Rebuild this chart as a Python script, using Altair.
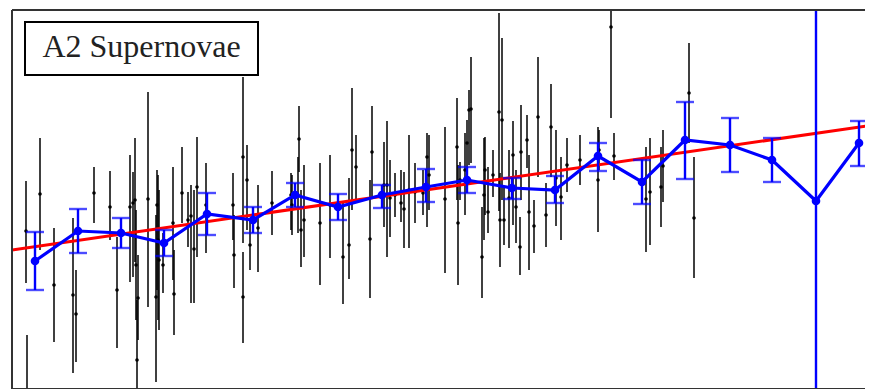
import altair as alt
import pandas as pd

# ---- individual supernovae (x, y, error-bar top, error-bar bottom), picture units ----
sn_x = [26, 27, 40, 54, 73, 76, 94, 110, 117, 130, 133, 135, 136, 137, 138, 148, 156, 157, 158, 159,
        163, 173, 174, 182, 188, 191, 194, 197, 206, 233, 234, 243, 243, 247, 250, 258, 272, 291, 292, 299,
        298, 301, 304, 320, 330, 343, 349, 352, 356, 370, 372, 384, 387, 390, 395, 401, 404, 409, 415, 423,
        427, 429, 445, 457, 458, 460, 465, 467, 469, 471, 482, 484, 485, 488, 493, 499, 500, 502, 504, 509,
        513, 516, 520, 521, 527, 529, 534, 538, 546, 551, 556, 561, 567, 580, 598, 599, 611, 614, 646, 650,
        661, 663, 689, 694, 867]
sn_y = [231, 395, 194, 285, 295, 314, 193, 207, 290, 207, 203, 200, 265, 360, 298, 199, 297, 205, 240, 260,
        265, 223, 294, 193, 220, 216, 249, 187, 205, 205, 255, 157, 297, 180, 245, 228, 203, 195, 205, 139,
        195, 230, 220, 223, 205, 257, 245, 150, 167, 239, 152, 185, 185, 198, 195, 203, 209, 190, 192, 193,
        157, 175, 199, 147, 223, 180, 170, 143, 110, 109, 257, 195, 170, 212, 175, 112, 220, 120, 220, 198,
        155, 207, 247, 152, 140, 212, 226, 117, 215, 127, 178, 197, 165, 160, 180, 150, 27, 156, 199, 192,
        187, 166, 93, 218, 143]
sn_top = [181, 335, 138, 228, 218, 270, 167, 171, 237, 155, 172, 138, 210, 300, 255, 92, 215, 170, 175, 190,
          233, 167, 250, 147, 192, 185, 190, 137, 163, 173, 215, 77, 252, 145, 220, 185, 171, 173, 175, 106,
          157, 190, 165, 163, 155, 203, 178, 88, 135, 180, 106, 142, 121, 160, 173, 170, 172, 135, 163, 170,
          133, 135, 127, 98, 165, 162, 133, 120, 90, 57, 207, 138, 137, 167, 150, 13, 173, 38, 188, 150,
          121, 170, 217, 105, 115, 155, 200, 57, 183, 84, 130, 157, 138, 135, 127, 130, -64, 133, 147, 138,
          147, 130, 43, 157, 120]
sn_bot = [283, 455, 250, 342, 373, 362, 223, 240, 348, 282, 277, 262, 320, 420, 340, 307, 382, 290, 320, 330,
          293, 280, 335, 223, 247, 303, 303, 257, 253, 240, 288, 243, 343, 230, 270, 272, 235, 230, 235, 172,
          233, 267, 257, 285, 258, 304, 279, 210, 200, 298, 198, 227, 257, 237, 217, 222, 248, 248, 223, 215,
          227, 210, 273, 200, 285, 200, 215, 185, 165, 163, 298, 240, 215, 233, 197, 211, 267, 200, 245, 248,
          225, 243, 275, 200, 168, 270, 253, 177, 247, 177, 226, 240, 192, 185, 232, 170, 118, 180, 252, 245,
          227, 202, 143, 278, 167]

# ---- binned averages ----
bin_x = [35, 78, 121, 164, 207, 253, 295, 338, 382, 426, 467, 512, 555, 598, 642, 685, 730, 772, 816, 859]
bin_y = [261, 231, 233, 243, 214, 220, 195, 207, 195, 187, 180, 188, 190, 156, 182, 140, 145, 160, 201, 143]
bin_top = [232, 209, 218, 230, 193, 207, 183, 194, 185, 169, 167, 178, 176, 143, 160, 102, 118, 138, -2000, 121]
bin_bot = [290, 253, 248, 256, 235, 233, 207, 220, 208, 202, 193, 199, 203, 171, 204, 179, 172, 182, 2000, 166]

# ---- linear fit ----
fit_x = [12, 873]
fit_y = [250, 125]

label = "A2 Supernovae"

sn = pd.DataFrame({"x": sn_x, "y": sn_y, "top": sn_top, "bot": sn_bot})
bins = pd.DataFrame({"x": bin_x, "y": bin_y, "top": bin_top, "bot": bin_bot})
fit = pd.DataFrame({"x": fit_x, "y": fit_y})

W, H = 853, 379
xs = alt.Scale(domain=[12, 12 + W], nice=False, zero=False)
ys = alt.Scale(domain=[389, 10], nice=False, zero=False)
X = alt.X("x:Q", scale=xs, axis=None)
Y = alt.Y("y:Q", scale=ys, axis=None)

sn_bars = alt.Chart(sn).mark_rule(color="black", strokeWidth=1.5, clip=True).encode(
    x=X, y=alt.Y("top:Q", scale=ys, axis=None), y2="bot:Q")
sn_pts = alt.Chart(sn).mark_circle(color="black", size=13, opacity=1, clip=True).encode(x=X, y=Y)

fit_line = alt.Chart(fit).mark_line(color="#ff0000", strokeWidth=3, clip=True).encode(x=X, y=Y)

bin_bars = alt.Chart(bins).mark_rule(color="#0000ff", strokeWidth=2.4, clip=True).encode(
    x=X, y=alt.Y("top:Q", scale=ys, axis=None), y2="bot:Q")
cap_top = alt.Chart(bins).mark_tick(color="#0000ff", size=18, thickness=2.4, orient="horizontal",
                                    clip=True).encode(x=X, y=alt.Y("top:Q", scale=ys, axis=None))
cap_bot = alt.Chart(bins).mark_tick(color="#0000ff", size=18, thickness=2.4, orient="horizontal",
                                    clip=True).encode(x=X, y=alt.Y("bot:Q", scale=ys, axis=None))
bin_line = alt.Chart(bins).mark_line(color="#0000ff", strokeWidth=3.2, clip=True).encode(x=X, y=Y)
bin_pts = alt.Chart(bins).mark_circle(color="#0000ff", size=75, opacity=1, clip=True).encode(x=X, y=Y)

lab = pd.DataFrame({"t": [label]})
box = alt.Chart(lab).mark_rect(fill="white", stroke="black", strokeWidth=2).encode(
    x=alt.value(13), x2=alt.value(246), y=alt.value(12), y2=alt.value(65))
txt = alt.Chart(lab).mark_text(font="Liberation Serif", fontSize=32, color="#222222",
                               align="center", baseline="alphabetic").encode(
    x=alt.value(129.5), y=alt.value(47), text="t:N")

frame_top = alt.Chart(lab).mark_rule(color="#333333", strokeWidth=2).encode(
    x=alt.value(0), x2=alt.value(W), y=alt.value(0))
frame_left = alt.Chart(lab).mark_rule(color="#333333", strokeWidth=2).encode(
    x=alt.value(0), y=alt.value(0), y2=alt.value(H))
frame_bot = alt.Chart(lab).mark_rule(color="#333333", strokeWidth=2).encode(
    x=alt.value(0), x2=alt.value(W), y=alt.value(H))

chart = alt.layer(
    sn_bars, sn_pts, fit_line, bin_bars, cap_top, cap_bot, bin_line, bin_pts,
    box, txt, frame_top, frame_left, frame_bot
).properties(
    width=W, height=H,
    padding={"left": 4, "top": 2, "right": 0, "bottom": 0},
    autosize=alt.AutoSizeParams(type="none"),
    background="white",
).configure_view(strokeWidth=0, stroke="transparent")

chart.save("out.html", embed_options={"renderer": "svg", "actions": False})
